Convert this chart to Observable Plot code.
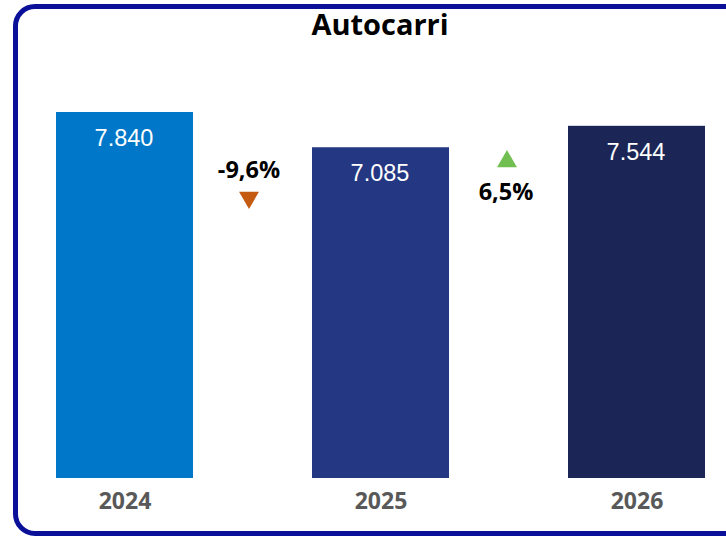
<!DOCTYPE html>
<html>
<head>
<meta charset="utf-8">
<script src="https://cdn.jsdelivr.net/npm/d3@7"></script>
<script src="https://cdn.jsdelivr.net/npm/@observablehq/plot@0.6"></script>
<style>
  html, body { margin: 0; padding: 0; background: #ffffff; overflow: hidden; }
  #page { position: relative; width: 726px; height: 536px; overflow: hidden; }
  #frame { position: absolute; left: 13px; top: 4px; width: 760px; height: 532px; box-sizing: border-box;
           border: 5px solid #0a1098; border-radius: 22px; }
  #title { position: absolute; left: 0; top: 6px; width: 760px; text-align: center;
           font-family: "Open Sans", sans-serif; font-weight: 700; font-size: 29px; line-height: 36px; color: #000; }
  #chart { position: absolute; left: 0; top: 0; }
</style>
</head>
<body>
<div id="page">
  <div id="frame"></div>
  <div id="chart"></div>
  <div id="title">Autocarri</div>
</div>
<script>
const years = ["2024", "2025", "2026"];
const values = [7840, 7085, 7544];
const barColors = ["#0077c8", "#243782", "#1b2656"];
const changeFrom = ["2024", "2025"];
const changes = [-9.6, 6.5];

const it = d3.formatLocale({decimal: ",", thousands: ".", grouping: [3], currency: ["€", ""], minus: "-"});
const fmtVal = it.format(",d");
const fmtPct = v => it.format(".1f")(v) + "%";

const bars = years.map((y, i) => ({year: y, value: values[i], color: barColors[i]}));
const deltas = changeFrom.map((y, i) => ({year: y, change: changes[i]}));
const downs = deltas.filter(d => d.change < 0);
const ups = deltas.filter(d => d.change >= 0);

const chart = Plot.plot({
  width: 726,
  height: 536,
  marginTop: 0,
  marginBottom: 58,
  marginLeft: 0,
  marginRight: 0,
  style: {background: "transparent", overflow: "visible"},
  x: {domain: years, range: [55, 707], paddingInner: 0.463, paddingOuter: 0, axis: null},
  y: {domain: [0, d3.max(values)], range: [478, 112], axis: null},
  color: {type: "identity"},
  marks: [
    Plot.barY(bars, {x: "year", y: "value", fill: "color"}),
    Plot.text(bars, {x: "year", y: "value", text: d => fmtVal(d.value), dy: 26, dx: -1,
      fill: "#ffffff", fontSize: 23.5, fontFamily: "Liberation Sans, Arial, sans-serif"}),
    Plot.text(bars, {x: "year", text: "year", frameAnchor: "bottom", lineAnchor: "middle", dy: 23,
      fill: "#595959", fontSize: 23, fontWeight: 700, fontFamily: "Open Sans, sans-serif"}),
    // decreases: label above, down triangle below
    Plot.text(downs, {x: "year", text: d => fmtPct(d.change), frameAnchor: "top", lineAnchor: "middle", dy: 170, dx: 124,
      fill: "#000000", fontSize: 23.5, fontWeight: 700, fontFamily: "Open Sans, sans-serif"}),
    Plot.dot(downs, {x: "year", frameAnchor: "top", dy: 197, dx: 124, symbol: "triangle", rotate: 180,
      r: 7.4, fill: "#c55a11", stroke: "none"}),
    // increases: up triangle above, label below
    Plot.dot(ups, {x: "year", frameAnchor: "top", dy: 161, dx: 126, symbol: "triangle",
      r: 7.4, fill: "#70bf50", stroke: "none"}),
    Plot.text(ups, {x: "year", text: d => fmtPct(d.change), frameAnchor: "top", lineAnchor: "middle", dy: 192, dx: 125,
      fill: "#000000", fontSize: 23.5, fontWeight: 700, fontFamily: "Open Sans, sans-serif"})
  ]
});
document.getElementById("chart").appendChild(chart);
</script>
</body>
</html>
